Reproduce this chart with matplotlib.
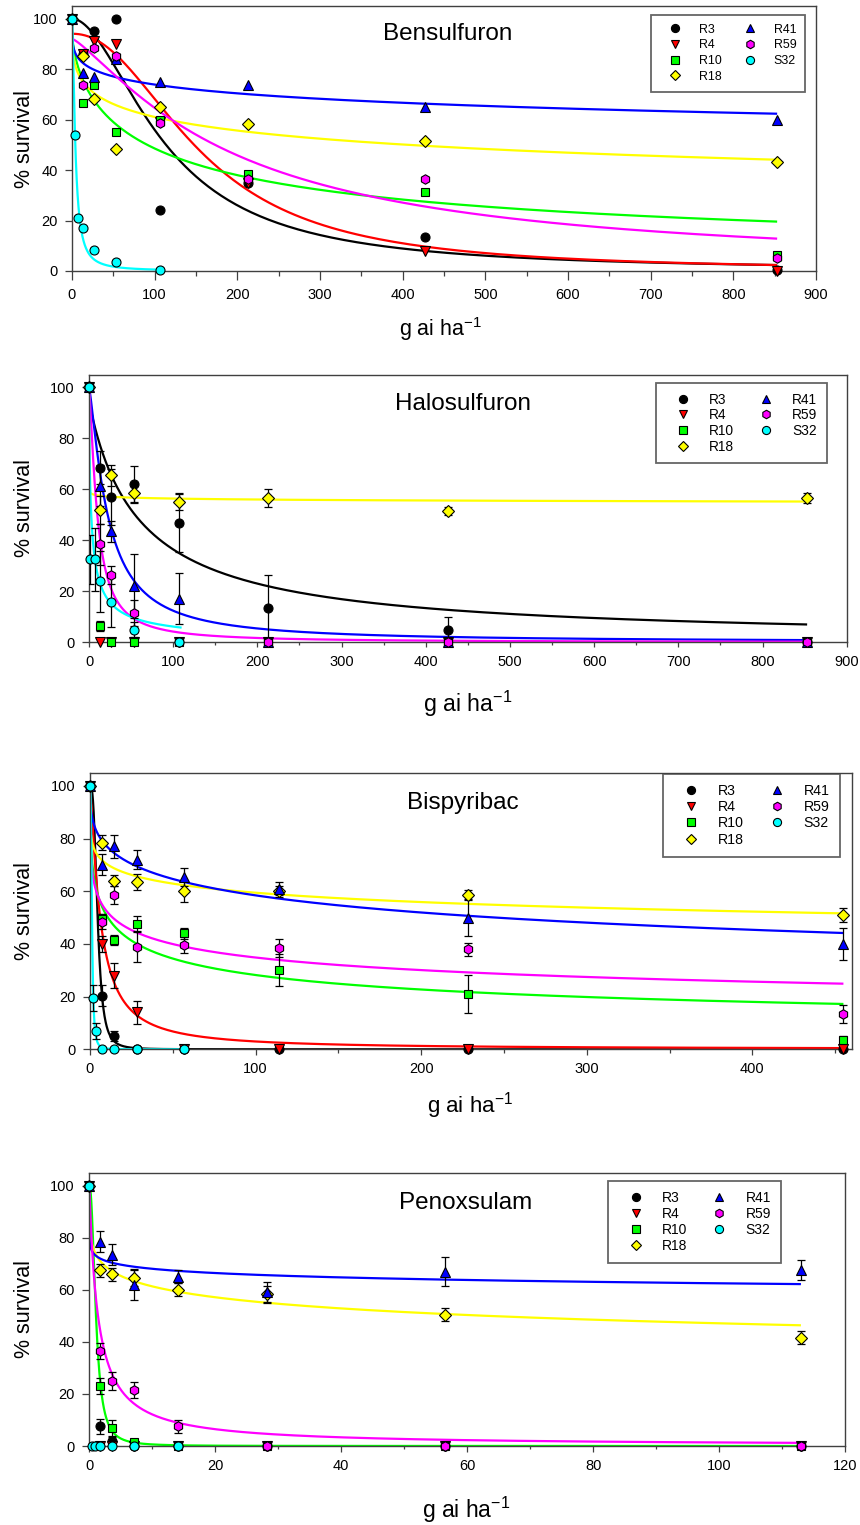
import numpy as np
import matplotlib
matplotlib.use("Agg")
import matplotlib.pyplot as plt
from matplotlib.ticker import MultipleLocator

plt.rcParams['font.family'] = ['Liberation Sans', 'DejaVu Sans']
plt.rcParams['mathtext.fontset'] = 'custom'
plt.rcParams['mathtext.rm'] = 'Liberation Sans'
plt.rcParams['mathtext.it'] = 'Liberation Sans:italic'
plt.rcParams['mathtext.default'] = 'regular'

# ---------------- data ----------------
STRAINS = ['R3', 'R4', 'R10', 'R18', 'R41', 'R59', 'S32']

# Bensulfuron
BEN_DOSE = [0, 13.3, 26.7, 53.3, 107, 213, 427, 853]
BEN_DOSE_S32 = [0, 3.3, 6.7, 13.3, 26.7, 53.3, 107]
BEN_R3 = [100, 86, 95, 100, 24, 35, 13.3, 0.5]
BEN_R4 = [100, 86, 91, 90, 59, 35, 8, 0]
BEN_R10 = [100, 66.5, 73.5, 55, 60, 38.4, 31.5, 6.5]
BEN_R18 = [100, 85, 68, 48.5, 65, 58.2, 51.5, 43.3]
BEN_R41 = [100, 78.5, 77, 84, 75, 73.5, 65, 60]
BEN_R59 = [100, 73.5, 88.5, 85, 58.5, 36.5, 36.5, 5]
BEN_S32 = [100, 54, 21, 17, 8.5, 3.5, 0.3]
# fitted curves: (upper, ED50, slope, x max)
BEN_FIT_R3 = (100, 113.7, 1.85, 853)
BEN_FIT_R4 = (94, 156.7, 2.16, 853)
BEN_FIT_R10 = (95, 107, 0.65, 853)
BEN_FIT_R18 = (100, 406, 0.32, 853)
BEN_FIT_R41 = (100, 6380, 0.25, 853)
BEN_FIT_R59 = (92, 198.8, 1.25, 853)
BEN_FIT_S32 = (100, 4.0, 1.6, 107)

# Halosulfuron
HAL_DOSE = [0, 13.3, 26.7, 53.3, 107, 213, 427, 853]
HAL_DOSE_S32 = [0, 1.7, 6.7, 13.3, 26.7, 53.3, 107]
HAL_R3 = [100, 68.5, 57, 62, 47, 13.5, 5, 0]
HAL_R3_ERR = [0, 6.5, 11, 7, 11.7, 13, 5, 0]
HAL_R4 = [100, 0, 0, 0, 0, 0, 0, 0]
HAL_R4_ERR = [0, 0, 0, 0, 0, 0, 0, 0]
HAL_R10 = [100, 6.5, 0, 0, 0, 0, 0, 0]
HAL_R10_ERR = [0, 2, 0, 0, 0, 0, 0, 0]
HAL_R18 = [100, 52, 65.5, 58.5, 55, 56.5, 51.5, 56.5]
HAL_R18_ERR = [0, 5.5, 4, 4, 3, 3.5, 1.5, 2]
HAL_R41 = [100, 61.5, 43.5, 22, 17, 0, 0, 0]
HAL_R41_ERR = [0, 8, 4, 12.5, 10, 0, 0, 0]
HAL_R59 = [100, 38.5, 26.5, 11.5, 0, 0, 0, 0]
HAL_R59_ERR = [0, 8, 3.5, 5, 0, 0, 0, 0]
HAL_S32 = [100, 32.5, 32.5, 24, 16, 5, 0]
HAL_S32_ERR = [0, 9.5, 12.5, 12, 10, 3, 0]
HAL_FIT_R3 = (95, 61, 0.96, 853)
HAL_FIT_R18 = (100, 1.2e7, 0.022, 853)
HAL_FIT_R41 = (100, 22.2, 1.3, 853)
HAL_FIT_R59 = (100, 9.86, 1.35, 853)
HAL_FIT_S32 = (100, 2.65, 0.75, 110)

# Bispyribac
BIS_DOSE = [0, 7.1, 14.2, 28.4, 57, 114, 228, 455]
BIS_DOSE_S32 = [0, 1.8, 3.6, 7.1, 14.2, 28.4, 57]
BIS_R3 = [100, 20.3, 5, 0, 0, 0, 0, 0]
BIS_R3_ERR = [0, 4, 2, 0, 0, 0, 0, 0]
BIS_R4 = [100, 40, 28, 14, 0, 0, 0, 0]
BIS_R4_ERR = [0, 3, 4.7, 4.5, 0, 0, 0, 0]
BIS_R10 = [100, 49.5, 41.5, 47.5, 44, 30, 21, 3.5]
BIS_R10_ERR = [0, 2, 2, 3, 2, 6, 7.3, 1.5]
BIS_R18 = [100, 78.5, 64, 63.5, 60, 60, 58.5, 51]
BIS_R18_ERR = [0, 3, 2, 3, 4, 2, 2, 2.5]
BIS_R41 = [100, 70, 77, 72, 65.5, 61, 50, 40]
BIS_R41_ERR = [0, 4, 4.5, 3.7, 3.5, 2.5, 7, 6.2]
BIS_R59 = [100, 48.5, 58.5, 39, 39.5, 38.5, 38, 13.5]
BIS_R59_ERR = [0, 3, 3.5, 6, 3, 3.5, 2.5, 3.5]
BIS_S32 = [100, 19.5, 7, 0, 0, 0, 0]
BIS_S32_ERR = [0, 5, 3, 0, 0, 0, 0]
BIS_FIT_R3 = (100, 4.6, 3.0, 455)
BIS_FIT_R4 = (100, 6.14, 1.25, 455)
BIS_FIT_R10 = (100, 10.8, 0.42, 455)
BIS_FIT_R18 = (100, 617, 0.21, 455)
BIS_FIT_R41 = (100, 245, 0.38, 455)
BIS_FIT_R59 = (100, 13.7, 0.315, 455)
BIS_FIT_S32 = (100, 1.2, 2.72, 57)

# Penoxsulam
PEN_DOSE = [0, 1.76, 3.53, 7.06, 14.1, 28.2, 56.5, 113]
PEN_DOSE_S32 = [0, 0.44, 0.88, 1.76, 3.53, 7.06, 14.1]
PEN_R3 = [100, 7.5, 2, 0, 0, 0, 0, 0]
PEN_R3_ERR = [0, 3, 1.5, 0, 0, 0, 0, 0]
PEN_R4 = [100, 0, 0, 0, 0, 0, 0, 0]
PEN_R4_ERR = [0, 0, 0, 0, 0, 0, 0, 0]
PEN_R10 = [100, 23, 7, 1.5, 0, 0, 0, 0]
PEN_R10_ERR = [0, 3, 3, 0.5, 0, 0, 0, 0]
PEN_R18 = [100, 67.5, 66, 64.5, 60, 58.5, 50.5, 41.5]
PEN_R18_ERR = [0, 2.5, 2.5, 3, 2.5, 3, 2.5, 2.5]
PEN_R41 = [100, 78.5, 73.5, 62, 65, 59, 67, 67.5]
PEN_R41_ERR = [0, 4, 4, 6, 2.5, 4, 5.5, 3.8]
PEN_R59 = [100, 36.5, 25, 21.5, 7.5, 0, 0, 0]
PEN_R59_ERR = [0, 3, 3.5, 3, 2.5, 0, 0, 0]
PEN_S32 = [100, 0, 0, 0, 0, 0, 0]
PEN_S32_ERR = [0, 0, 0, 0, 0, 0, 0]
PEN_FIT_R10 = (100, 1.06, 2.27, 113)
PEN_FIT_R18 = (100, 63.2, 0.25, 113)
PEN_FIT_R41 = (100, 11870, 0.107, 113)
PEN_FIT_R59 = (100, 1.38, 1.0, 113)

TITLES = ['Bensulfuron', 'Halosulfuron', 'Bispyribac', 'Penoxsulam']
Y_TICKS = [0, 20, 40, 60, 80, 100]

# ---------------- styles ----------------
COLORS = {'R3': '#000000', 'R4': '#FF0000', 'R10': '#00FF00', 'R18': '#FFFF00',
          'R41': '#0000FF', 'R59': '#FF00FF', 'S32': '#00FFFF'}
MARKERS = {'R3': 'o', 'R4': 'v', 'R10': 's', 'R18': 'D', 'R41': '^', 'R59': 'h', 'S32': 'o'}
MSIZE = {'R3': 6.5, 'R4': 6.5, 'R10': 6.0, 'R18': 6.0, 'R41': 6.5, 'R59': 6.8, 'S32': 6.5}

W, H = 860, 1525
fig = plt.figure(figsize=(W / 100, H / 100), dpi=100)


def px_axes(l, r, t, b):
    return [l / W, 1 - b / H, (r - l) / W, (b - t) / H]


def loglogistic(x, d, e, b):
    return d / (1.0 + (x / e) ** b)


panels = [
    dict(rect=px_axes(72, 816, 6, 271), xmax=900, xmaj=100, xmin=50,
         doses={s: (BEN_DOSE_S32 if s == 'S32' else BEN_DOSE) for s in STRAINS},
         vals=dict(zip(STRAINS, [BEN_R3, BEN_R4, BEN_R10, BEN_R18, BEN_R41, BEN_R59, BEN_S32])),
         errs=None,
         fits=dict(zip(STRAINS, [BEN_FIT_R3, BEN_FIT_R4, BEN_FIT_R10, BEN_FIT_R18,
                                 BEN_FIT_R41, BEN_FIT_R59, BEN_FIT_S32])),
         title_xy=(383, 40), xlabel_xy=(441, 336), xlabel_fs=15.5, ylabel_y=138.5,
         leg_xy=(651, 14.7), leg_fs=8.9, leg_sp=0.3, xtick_len=6.5, xminor_len=3.6),
    dict(rect=px_axes(89, 846.7, 374.7, 642.3), xmax=900, xmaj=100, xmin=50,
         doses={s: (HAL_DOSE_S32 if s == 'S32' else HAL_DOSE) for s in STRAINS},
         vals=dict(zip(STRAINS, [HAL_R3, HAL_R4, HAL_R10, HAL_R18, HAL_R41, HAL_R59, HAL_S32])),
         errs=dict(zip(STRAINS, [HAL_R3_ERR, HAL_R4_ERR, HAL_R10_ERR, HAL_R18_ERR,
                                 HAL_R41_ERR, HAL_R59_ERR, HAL_S32_ERR])),
         fits={'R3': HAL_FIT_R3, 'R18': HAL_FIT_R18, 'R41': HAL_FIT_R41,
               'R59': HAL_FIT_R59, 'S32': HAL_FIT_S32},
         title_xy=(395, 410), xlabel_xy=(467.5, 711.7), xlabel_fs=16.7, ylabel_y=508.5,
         leg_xy=(656, 382.7), leg_fs=9.9, leg_sp=0.12, xtick_len=3.4, xminor_len=2.2),
    dict(rect=px_axes(90, 851.7, 772.7, 1049.3), xmax=460, xmaj=100, xmin=50,
         doses={s: (BIS_DOSE_S32 if s == 'S32' else BIS_DOSE) for s in STRAINS},
         vals=dict(zip(STRAINS, [BIS_R3, BIS_R4, BIS_R10, BIS_R18, BIS_R41, BIS_R59, BIS_S32])),
         errs=dict(zip(STRAINS, [BIS_R3_ERR, BIS_R4_ERR, BIS_R10_ERR, BIS_R18_ERR,
                                 BIS_R41_ERR, BIS_R59_ERR, BIS_S32_ERR])),
         fits=dict(zip(STRAINS, [BIS_FIT_R3, BIS_FIT_R4, BIS_FIT_R10, BIS_FIT_R18,
                                 BIS_FIT_R41, BIS_FIT_R59, BIS_FIT_S32])),
         title_xy=(407.3, 809), xlabel_xy=(470.3, 1112.3), xlabel_fs=16.0, ylabel_y=911,
         leg_xy=(663.3, 774), leg_fs=10.2, leg_sp=0.15, xtick_len=4.0, xminor_len=3.0),
    dict(rect=px_axes(89.3, 845, 1172.7, 1446), xmax=120, xmaj=20, xmin=10,
         doses={s: (PEN_DOSE_S32 if s == 'S32' else PEN_DOSE) for s in STRAINS},
         vals=dict(zip(STRAINS, [PEN_R3, PEN_R4, PEN_R10, PEN_R18, PEN_R41, PEN_R59, PEN_S32])),
         errs=dict(zip(STRAINS, [PEN_R3_ERR, PEN_R4_ERR, PEN_R10_ERR, PEN_R18_ERR,
                                 PEN_R41_ERR, PEN_R59_ERR, PEN_S32_ERR])),
         fits={'R10': PEN_FIT_R10, 'R18': PEN_FIT_R18, 'R41': PEN_FIT_R41, 'R59': PEN_FIT_R59},
         title_xy=(399.3, 1209), xlabel_xy=(466, 1518.3), xlabel_fs=16.5, ylabel_y=1309.3,
         leg_xy=(608.3, 1180.7), leg_fs=10.0, leg_sp=0.15, xtick_len=4.1, xminor_len=2.4),
]

FRAME = '#404040'

for title, p in zip(TITLES, panels):
    ax = fig.add_axes(p['rect'])
    ax.set_xlim(0, p['xmax'])
    ax.set_ylim(0, 105)
    ax.set_yticks(Y_TICKS)
    ax.xaxis.set_major_locator(MultipleLocator(p['xmaj']))
    ax.xaxis.set_minor_locator(MultipleLocator(p['xmin']))
    for sp in ax.spines.values():
        sp.set_color(FRAME)
        sp.set_linewidth(1.0)
    ax.tick_params(axis='y', which='major', direction='out', length=4.8, width=0.9,
                   color=FRAME, pad=5.6, labelsize=10.5)
    ax.tick_params(axis='x', which='major', direction='out', length=p['xtick_len'], width=0.9,
                   color=FRAME, pad=5.4, labelsize=10.5)
    ax.tick_params(axis='x', which='minor', direction='out', length=p['xminor_len'], width=0.9,
                   color=FRAME)

    # fitted curves
    for s in STRAINS:
        if s not in p['fits']:
            continue
        d, e, b, xm = p['fits'][s]
        xs = np.concatenate([[0.0], np.geomspace(xm * 1e-6, xm, 900)])
        ax.plot(xs, loglogistic(xs, d, e, b), color=COLORS[s], lw=1.6, zorder=2,
                solid_capstyle='butt')

    # error bars
    if p['errs'] is not None:
        for s in STRAINS:
            x = np.asarray(p['doses'][s], float)
            y = np.asarray(p['vals'][s], float)
            er = np.asarray(p['errs'][s], float)
            m = er > 0
            if m.any():
                ax.errorbar(x[m], y[m], yerr=er[m], fmt='none', ecolor='black',
                            elinewidth=0.9, capsize=3, capthick=0.9, zorder=3)

    # points
    for i, s in enumerate(STRAINS):
        ax.plot(p['doses'][s], p['vals'][s], linestyle='none', marker=MARKERS[s],
                ms=MSIZE[s], mfc=COLORS[s], mec='black', mew=0.8, clip_on=False,
                zorder=4 + i * 0.01, label=s)

    # title inside
    tx, ty = p['title_xy']
    fig.text(tx / W, 1 - ty / H, title, ha='left', va='baseline', fontsize=17.5)

    # axis labels
    lx, ly = p['xlabel_xy']
    fig.text(lx / W, 1 - ly / H, 'g ai ha$^{-1}$', ha='center', va='baseline',
             fontsize=p['xlabel_fs'])
    fig.text(24.5 / W, 1 - p['ylabel_y'] / H, '% survival', rotation=90,
             ha='center', va='center', fontsize=15.5)

    # legend
    gx, gy = p['leg_xy']
    l, b_, w, h = p['rect']
    ax_l, ax_t = l * W, (1 - (b_ + h)) * H
    ax_w, ax_h = w * W, h * H
    bx = (gx - ax_l) / ax_w
    by = 1 - (gy - ax_t) / ax_h
    leg = ax.legend(loc='upper left', bbox_to_anchor=(bx, by), borderaxespad=0,
                    ncol=2, fontsize=p['leg_fs'], frameon=True, fancybox=False,
                    handlelength=2.5, handletextpad=0.65, columnspacing=1.05,
                    borderpad=0.72, labelspacing=p['leg_sp'], markerscale=0.9)
    fr = leg.get_frame()
    fr.set_edgecolor(FRAME)
    fr.set_linewidth(1.3)
    leg.set_zorder(10)

fig.savefig('out.png', dpi=100)
